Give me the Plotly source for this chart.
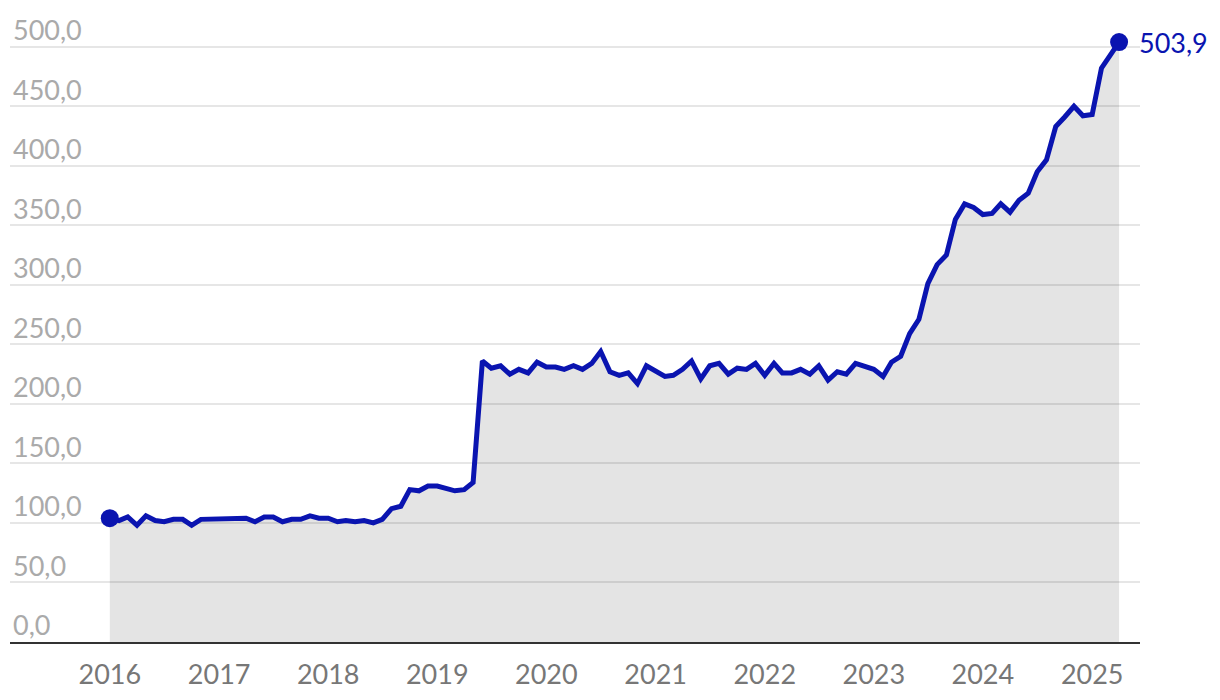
import pandas as pd
import plotly.graph_objects as go

# månedlige verdier, jan 2016 - apr 2025
start_month = "2016-01-01"
values_2016 = [104, 102, 105, 98, 106, 102, 101, 103, 103, 98, 103, 103]
values_2017 = [104, 103, 103, 104, 101, 105, 105, 101, 103, 103, 106, 104]
values_2018 = [104, 101, 102, 101, 102, 100, 103, 112, 114, 128, 127, 131]
values_2019 = [131, 129, 127, 128, 134, 236, 230, 232, 225, 229, 226, 235]
values_2020 = [231, 231, 229, 232, 229, 234, 244, 227, 224, 226, 217, 232]
values_2021 = [227, 223, 224, 229, 236, 221, 232, 234, 225, 230, 229, 234]
values_2022 = [224, 234, 226, 226, 229, 225, 232, 220, 227, 225, 234, 231]
values_2023 = [229, 223, 235, 240, 259, 271, 301, 317, 325, 355, 368, 365]
values_2024 = [359, 360, 368, 361, 371, 377, 395, 405, 433, 441, 450, 442]
values_2025 = [443, 482, 492, 503.9]

values = (values_2016 + values_2017 + values_2018 + values_2019 + values_2020
          + values_2021 + values_2022 + values_2023 + values_2024 + values_2025)
dates = pd.date_range(start_month, periods=len(values), freq="MS")

y_ticks = [0, 50, 100, 150, 200, 250, 300, 350, 400, 450, 500]
x_ticks = [f"{y}-01-01" for y in range(2016, 2026)]
x_tick_labels = [str(y) for y in range(2016, 2026)]

line_color = "#0a14b0"
font_family = "Lato, 'Open Sans', sans-serif"

fig = go.Figure()

# flate under kurven
fig.add_trace(go.Scatter(
    x=dates, y=values,
    mode="lines",
    line=dict(color=line_color, width=5),
    fill="tozeroy",
    fillcolor="rgba(0,0,0,0.105)",
    hoverinfo="skip",
))

# markører for første og siste punkt
fig.add_trace(go.Scatter(
    x=[dates[0], dates[-1]], y=[values[0], values[-1]],
    mode="markers",
    marker=dict(color=line_color, size=18),
))

fig.add_annotation(
    x=dates[-1], y=values[-1],
    text=f"{values[-1]:.1f}".replace(".", ","),
    showarrow=False,
    xanchor="left", yanchor="middle",
    xshift=18,
    font=dict(family=font_family, size=27, color=line_color),
)

# siden har 8px body-marg, derfor litt mindre marger her
fig.update_layout(
    width=1220, height=700,
    margin=dict(l=2, r=88, t=3, b=66),
    plot_bgcolor="white",
    paper_bgcolor="white",
    showlegend=False,
    separators=", ",
    font=dict(family=font_family),
)

fig.update_xaxes(
    range=["2015-02-01", "2025-06-10"],
    tickvals=x_ticks,
    ticktext=x_tick_labels,
    showgrid=False,
    showline=True,
    linecolor="#333333",
    linewidth=2,
    ticks="",
    ticklabelstandoff=8,
    tickfont=dict(size=27, color="#777777"),
)

fig.update_yaxes(
    range=[0, 530],
    tickvals=y_ticks,
    tickformat=".1f",
    showgrid=True,
    gridcolor="#e6e6e6",
    gridwidth=1.5,
    zeroline=False,
    ticklabelposition="inside",
    ticklabelshift=-16,
    tickfont=dict(size=27, color="#aaaaaa"),
)

fig.write_html("out.html")
